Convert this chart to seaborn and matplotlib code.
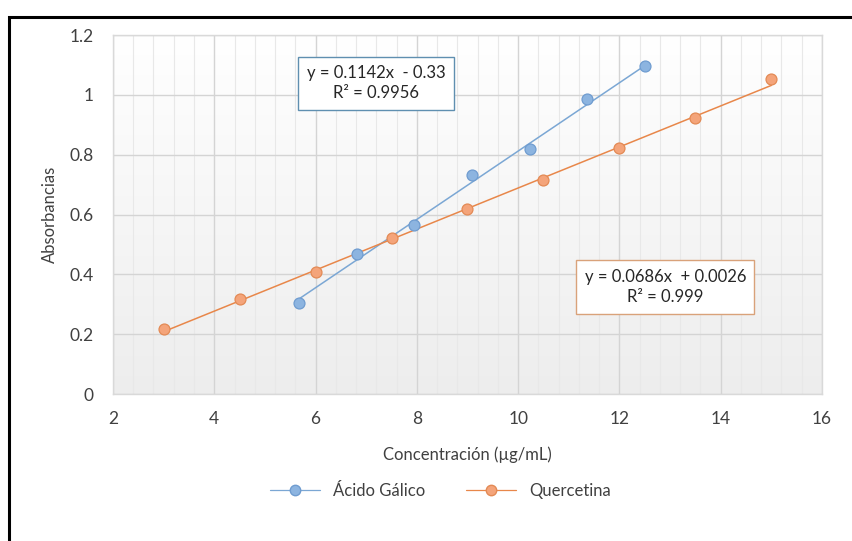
import numpy as np
import pandas as pd
import seaborn as sns
import matplotlib.pyplot as plt
from matplotlib.lines import Line2D
from matplotlib.patches import Rectangle
from matplotlib.ticker import MultipleLocator, FuncFormatter

# data
gal_x = [5.68, 6.82, 7.95, 9.09, 10.23, 11.36, 12.5]
gal_y = [0.305, 0.468, 0.565, 0.733, 0.819, 0.985, 1.095]
que_x = [3.0, 4.5, 6.0, 7.5, 9.0, 10.5, 12.0, 13.5, 15.0]
que_y = [0.218, 0.318, 0.408, 0.523, 0.620, 0.717, 0.823, 0.924, 1.052]

# trendline coefficients (slope, intercept) as printed on the chart
gal_fit = (0.1142, -0.33)
que_fit = (0.0686, 0.0026)
gal_label = "y = 0.1142x  - 0.33\nR² = 0.9956"
que_label = "y = 0.0686x  + 0.0026\nR² = 0.999"

x_ticks = [2, 4, 6, 8, 10, 12, 14, 16]
y_ticks = [0, 0.2, 0.4, 0.6, 0.8, 1.0, 1.2]

blue_fill, blue_edge, blue_line = "#8cb4e0", "#6f9cd0", "#7ba7d4"
orange_fill, orange_edge, orange_line = "#f4a47a", "#e38a55", "#e8874a"
tick_col = "#404040"

sns.set_theme(style="white")
plt.rcParams["font.family"] = ["Lato", "DejaVu Sans"]

fig = plt.figure(figsize=(8.52, 5.41), dpi=100)
ax = fig.add_axes([0.1326, 0.2717, 0.8322, 0.6636])

# light gradient background of the plot area (white at top, light grey at bottom)
shade = np.linspace(1.0, 0.93, 256)
grad = np.dstack([shade, shade, shade]).reshape(256, 1, 3)
ax.imshow(grad, extent=[0, 1, 0, 1], transform=ax.transAxes,
          aspect="auto", zorder=0)

df_g = pd.DataFrame({"x": gal_x, "y": gal_y})
df_q = pd.DataFrame({"x": que_x, "y": que_y})

# trendlines from the equations
for df, fit, col in [(df_g, gal_fit, blue_line), (df_q, que_fit, orange_line)]:
    xs = np.array([df["x"].min(), df["x"].max()])
    line = pd.DataFrame({"x": xs, "y": fit[0] * xs + fit[1]})
    sns.lineplot(data=line, x="x", y="y", color=col, lw=1.1, ax=ax, zorder=3)

sns.scatterplot(data=df_g, x="x", y="y", color=blue_fill, s=62,
                edgecolor=blue_edge, linewidth=0.9, ax=ax, zorder=4)
sns.scatterplot(data=df_q, x="x", y="y", color=orange_fill, s=62,
                edgecolor=orange_edge, linewidth=0.9, ax=ax, zorder=4)

ax.set_xlim(2, 16)
ax.set_ylim(0, 1.2)
ax.set_xticks(x_ticks)
ax.set_yticks(y_ticks)
ax.xaxis.set_minor_locator(MultipleLocator(0.4))
ax.yaxis.set_major_formatter(FuncFormatter(lambda v, p: f"{v:g}"))
ax.grid(which="major", color="#d4d4d4", lw=1.0, zorder=1)
ax.grid(which="minor", axis="x", color="#e8e8e8", lw=0.8, zorder=1)
ax.set_axisbelow(True)
for s in ax.spines.values():
    s.set_color("#d9d9d9")
    s.set_linewidth(1.0)
ax.tick_params(axis="both", which="both", length=0, labelsize=12.5,
               labelcolor=tick_col)
ax.tick_params(axis="x", pad=12)
ax.tick_params(axis="y", pad=14)

ax.set_xlabel("Concentración (µg/mL)", fontsize=12, color="#404040", labelpad=14)
ax.set_ylabel("Absorbancias", fontsize=12, color="#404040", labelpad=8)

ax.text(0.371, 0.866, gal_label, transform=ax.transAxes, ha="center", va="center",
        fontsize=12, color="#262626", linespacing=1.35, zorder=5,
        bbox=dict(boxstyle="square,pad=0.5", fc="white", ec="#5f8fb0", lw=1.0))
ax.text(0.779, 0.298, que_label, transform=ax.transAxes, ha="center", va="center",
        fontsize=12, color="#262626", linespacing=1.35, zorder=5,
        bbox=dict(boxstyle="square,pad=0.5", fc="white", ec="#d9a27a", lw=1.0))

handles = [
    Line2D([], [], color=blue_line, lw=0.9, marker="o", markersize=7.5,
           markerfacecolor=blue_fill, markeredgecolor=blue_edge),
    Line2D([], [], color=orange_line, lw=0.9, marker="o", markersize=7.5,
           markerfacecolor=orange_fill, markeredgecolor=orange_edge),
]
fig.legend(handles, ["Ácido Gálico", "Quercetina"], loc="center",
           bbox_to_anchor=(0.517, 0.092), ncol=2, frameon=False, fontsize=12,
           handlelength=3.0, columnspacing=2.4, labelcolor="#404040")

# outer frame of the chart
fig.patches.append(Rectangle((0.0106, -0.05), 1.05, 1.0186, transform=fig.transFigure,
                             fill=False, ec="black", lw=2.2))

fig.savefig("out.png", dpi=100)
